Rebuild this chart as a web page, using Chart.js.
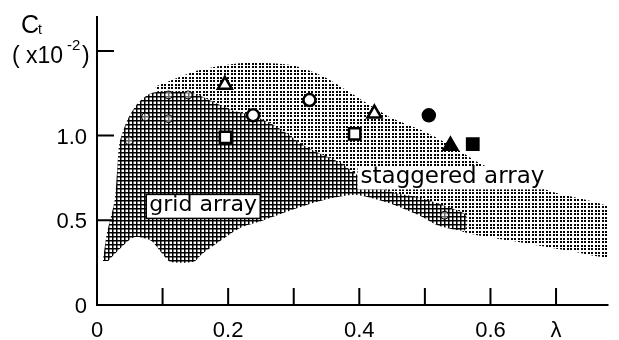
<!DOCTYPE html>
<html>
<head>
<meta charset="utf-8">
<script src="https://cdn.jsdelivr.net/npm/chart.js@4/dist/chart.umd.min.js"></script>
<style>
  html, body { margin: 0; padding: 0; background: #fff; }
</style>
</head>
<body>
<canvas id="ct-chart" width="619" height="340"></canvas>
<script>
// outline of the two shaded bands, [lambda, Ct], going round each shape
const staggeredBand = [
  [0.089, 1.29], [0.147, 1.376], [0.196, 1.416], [0.231, 1.43], [0.296, 1.416],
  [0.346, 1.347], [0.396, 1.229], [0.446, 1.11], [0.496, 1.03], [0.545, 0.93],
  [0.585, 0.834], [0.64, 0.75], [0.695, 0.667], [0.79, 0.555],
  [0.79, 0.29], [0.72, 0.32], [0.645, 0.37], [0.57, 0.42], [0.52, 0.49],
  [0.47, 0.6], [0.42, 0.65], [0.36, 0.68], [0.25, 0.8], [0.15, 0.95], [0.11, 1.1]
];
const gridBand = [
  [0.009, 0.26], [0.015, 0.42], [0.027, 0.62], [0.031, 0.81], [0.034, 0.95],
  [0.042, 1.05], [0.05, 1.12], [0.062, 1.19], [0.082, 1.25], [0.112, 1.26],
  [0.147, 1.25], [0.171, 1.21], [0.206, 1.15], [0.236, 1.12], [0.271, 1.06],
  [0.321, 0.93], [0.371, 0.84], [0.4, 0.76], [0.446, 0.67], [0.495, 0.63],
  [0.56, 0.54], [0.565, 0.49],
  [0.56, 0.44], [0.52, 0.47], [0.496, 0.52], [0.446, 0.6], [0.396, 0.65],
  [0.346, 0.62], [0.296, 0.56], [0.246, 0.49], [0.221, 0.46], [0.196, 0.4],
  [0.16, 0.3], [0.147, 0.255], [0.112, 0.255], [0.1, 0.3], [0.082, 0.38],
  [0.057, 0.4], [0.037, 0.34], [0.017, 0.26]
];

// measured points
const openTriangles = [[0.195, 1.30], [0.423, 1.13]];
const openCircles = [[0.238, 1.12], [0.324, 1.21]];
const openSquares = [[0.196, 0.99], [0.393, 1.01]];
const filledCircles = [[0.506, 1.12]];
const filledTriangles = [[0.539, 0.94]];
const filledSquares = [[0.573, 0.95]];
// points printed under the hatching, barely visible
const hiddenCircles = [[0.109, 1.24], [0.139, 1.24], [0.074, 1.11], [0.109, 1.10], [0.049, 0.97], [0.53, 0.53]];

// axes
const xTicks = [0.1, 0.2, 0.3, 0.4, 0.5, 0.6, 0.7];
const xLabelValues = [0, 0.2, 0.4, 0.6, 0.7];
const xLabels = ['0', '0.2', '0.4', '0.6', 'λ'];
const yTicks = [0.5, 1.0, 1.5];
const yLabelValues = [0, 0.5, 1.0];
const yLabels = ['0', '0.5', '1.0'];

const pts = (arr) => arr.map(([x, y]) => ({ x, y }));

function makePattern(size, draw) {
  const c = document.createElement('canvas');
  c.width = c.height = size;
  const g = c.getContext('2d');
  draw(g);
  return g.createPattern(c, 'repeat');
}

// dot screen, about 3.5px pitch
const dots = makePattern(7, (g) => {
  g.fillStyle = '#000';
  [0, 3].forEach((i) => [0, 3].forEach((j) => g.fillRect(i, j, 2, 2)));
});
// cross hatching with white holes
const hatch = makePattern(4, (g) => {
  g.fillStyle = '#fff';
  g.fillRect(0, 0, 4, 4);
  g.fillStyle = '#000';
  g.fillRect(0, 0, 4, 1);
  g.fillRect(0, 0, 1, 4);
  g.fillStyle = 'rgba(0,0,0,0.5)';
  g.fillRect(1, 1, 3, 1);
  g.fillRect(1, 1, 1, 3);
});

const band = (data, bg, order) => ({
  data: pts(data),
  showLine: true,
  fill: 'shape',
  backgroundColor: bg,
  borderColor: 'rgba(0,0,0,0)',
  borderWidth: 0,
  pointRadius: 0,
  tension: 0.25,
  order,
});

const marker = (data, style, radius, filled, width = 2.5) => ({
  data: pts(data),
  pointStyle: style,
  pointRadius: radius,
  pointBackgroundColor: filled ? '#000' : '#fff',
  pointBorderColor: '#000',
  pointBorderWidth: width,
  order: 0,
});


// axis lines, inward ticks, tick labels and labels on the bands
const decorations = {
  id: 'decorations',
  afterDatasetsDraw(chart) {
    const { ctx, scales: { x, y } } = chart;
    ctx.save();

    // grid array box
    const gx = x.getPixelForValue(0.162);
    const gy = y.getPixelForValue(0.582);
    ctx.fillStyle = '#fff';
    ctx.fillRect(gx - 57, gy - 12, 114, 24);
    ctx.strokeStyle = '#000';
    ctx.lineWidth = 1.5;
    ctx.strokeRect(gx - 57, gy - 12, 114, 24);
    ctx.fillStyle = '#000';
    ctx.font = '22px "DejaVu Sans"';
    ctx.textAlign = 'center';
    ctx.textBaseline = 'middle';
    ctx.fillText('grid array', gx, gy - 1);

    // staggered array label on white
    const sx = x.getPixelForValue(0.539);
    const sy = y.getPixelForValue(0.747);
    ctx.fillStyle = '#fff';
    ctx.fillRect(sx - 93, sy - 11, 186, 22);
    ctx.fillStyle = '#000';
    ctx.font = '23px "DejaVu Sans"';
    ctx.fillText('staggered array', sx + 2, sy - 1);
    ctx.restore();
  },
  afterDraw(chart) {
    const { ctx, chartArea: a, scales: { x, y } } = chart;
    ctx.save();
    ctx.strokeStyle = '#000';
    ctx.lineWidth = 2;
    ctx.beginPath();
    ctx.moveTo(a.left, a.top - 1);
    ctx.lineTo(a.left, a.bottom);
    ctx.lineTo(a.right, a.bottom);
    xTicks.forEach((v) => {
      const px = x.getPixelForValue(v);
      ctx.moveTo(px, a.bottom);
      ctx.lineTo(px, a.bottom - 17);
    });
    yTicks.forEach((v) => {
      const py = y.getPixelForValue(v);
      ctx.moveTo(a.left, py);
      ctx.lineTo(a.left + 17, py);
    });
    ctx.stroke();

    ctx.fillStyle = '#000';
    ctx.font = '22px "Liberation Sans"';
    ctx.textBaseline = 'alphabetic';
    ctx.textAlign = 'center';
    xLabelValues.forEach((v, i) => {
      ctx.fillText(xLabels[i], x.getPixelForValue(v), a.bottom + 32);
    });
    ctx.textAlign = 'right';
    yLabelValues.forEach((v, i) => {
      ctx.fillText(yLabels[i], a.left - 10, y.getPixelForValue(v) + 8);
    });

    // axis title Ct (x10^-2)
    ctx.textAlign = 'left';
    ctx.font = '25px "Liberation Sans"';
    ctx.fillText('C', 21, 33);
    ctx.font = '14px "Liberation Sans"';
    ctx.fillText('t', 38, 34);
    ctx.font = '23px "Liberation Sans"';
    ctx.fillText('( x10', 12, 63);
    ctx.fillText(')', 82, 63);
    ctx.font = '15px "Liberation Sans"';
    ctx.fillText('-2', 67, 50);
    ctx.restore();
  },
};

new Chart(document.getElementById('ct-chart'), {
  type: 'scatter',
  data: {
    datasets: [
      marker(openTriangles, 'triangle', 8, false),
      marker(openCircles, 'circle', 6, false),
      marker(openSquares, 'rect', 8, false),
      marker(filledCircles, 'circle', 6, true),
      marker(filledTriangles, 'triangle', 8, true),
      marker(filledSquares, 'rect', 8, true),
      { ...marker(hiddenCircles, 'circle', 4, false, 1), pointBackgroundColor: 'rgba(255,255,255,0.4)' },
      band(gridBand, hatch, 1),
      band(staggeredBand, dots, 2),
    ],
  },
  options: {
    responsive: false,
    animation: false,
    layout: { padding: { left: 97, top: 17, right: 0, bottom: 35 } },
    scales: {
      x: { type: 'linear', min: 0, max: 0.78, display: false },
      y: { type: 'linear', min: 0, max: 1.7, display: false },
    },
    plugins: {
      legend: { display: false },
      tooltip: { enabled: false },
    },
  },
  plugins: [decorations],
});
</script>
</body>
</html>
